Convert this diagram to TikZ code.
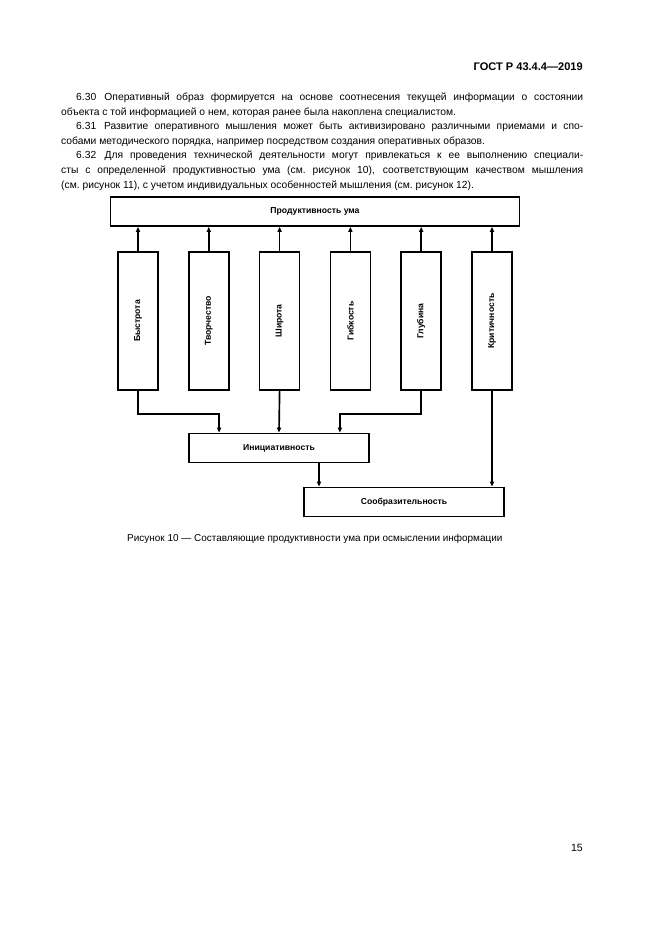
\documentclass[tikz,border=0pt]{standalone}
\usepackage{fontspec}
\usepackage{graphicx}
\setmainfont{Liberation Sans}
\usetikzlibrary{arrows.meta,positioning,calc}
\newlength{\pxu}
\setlength{\pxu}{0.3177mm}
\tikzset{
  block/.style={draw, line width=1.6pt, inner sep=0pt, align=center,
    font=\fontsize{7.8}{9}\selectfont\bfseries},
  wideblock/.style={block, minimum height=29\pxu},
  tallblock/.style={block, minimum width=40\pxu, minimum height=138\pxu},
  link/.style={-{Triangle[length=4.6pt,width=3.8pt]}, line width=1.5pt},
  bodyline/.style={anchor=base west, inner sep=0pt, font=\fontsize{9.3}{12}\selectfont},
}
\begin{document}
\begin{tikzpicture}[x=\pxu, y=-\pxu]
  \useasboundingbox[fill=white] (0,0) rectangle (661,935);

  % page header
  \node[anchor=base east, inner sep=0pt, font=\fontsize{10}{12}\selectfont\bfseries]
    (gost) at (583,71) {ГОСТ Р 43.4.4—2019};

  % text above the figure
  \node[bodyline] (l1) at (76,101)
    {\makebox[507\pxu][s]{6.30\hspace{0.15em} Оперативный образ формируется на основе соотнесения текущей информации о состоянии}};
  \node[bodyline] (l2) at (61,115.5)
    {объекта с той информацией о нем, которая ранее была накоплена специалистом.};
  \node[bodyline] (l3) at (76,130)
    {\makebox[507\pxu][s]{6.31\hspace{0.15em} Развитие оперативного мышления может быть активизировано различными приемами и спо-}};
  \node[bodyline] (l4) at (61,144.5)
    {собами методического порядка, например посредством создания оперативных образов.};
  \node[bodyline] (l5) at (76,159)
    {\makebox[507\pxu][s]{6.32\hspace{0.15em} Для проведения технической деятельности могут привлекаться к ее выполнению специали-}};
  \node[bodyline] (l6) at (61,173.5)
    {\makebox[522\pxu][s]{сты с определенной продуктивностью ума (см.~рисунок 10), соответствующим качеством мышления}};
  \node[bodyline] (l7) at (61,188)
    {(см.~рисунок 11), с учетом индивидуальных особенностей мышления (см.~рисунок 12).};

  % figure 10
  \node[wideblock, minimum width=409\pxu] (prod) at (315,211.5) {Продуктивность ума};

  \foreach \lab [count=\i] in {Быстрота, Творчество, Широта, Гибкость, Глубина, Критичность}
    \node[tallblock] (b\i) at ({138+70.8*(\i-1)},321) {\rotatebox{90}{\lab}};

  \foreach \i in {1,...,6}
    \draw[link] (b\i.north) -- (b\i.north |- prod.south);

  \node[wideblock, minimum width=180\pxu] (init) at (279,448) {Инициативность};
  \node[wideblock, minimum width=200\pxu] (soob) at (404,502) {Сообразительность};

  \draw[link] (b1.south) -- ++(0,23) -| ([xshift=31\pxu]init.north west);
  \draw[link] (b3.south) -- (init.north);
  \draw[link] (b5.south) -- ++(0,23) -| ([xshift=-30\pxu]init.north east);
  \draw[link] ([xshift=40\pxu]init.south) -- ([xshift=40\pxu]init.south |- soob.north);
  \draw[link] (b6.south) -- (b6.south |- soob.north);

  \node[anchor=base west, inner sep=0pt, font=\fontsize{9}{11}\selectfont]
    (caption) at (127,541) {Рисунок 10 — Составляющие продуктивности ума при осмыслении информации};

  % page number
  \node[anchor=base east, inner sep=0pt, font=\fontsize{9.5}{12}\selectfont]
    (pagenum) at (583,851) {15};
\end{tikzpicture}
\end{document}
